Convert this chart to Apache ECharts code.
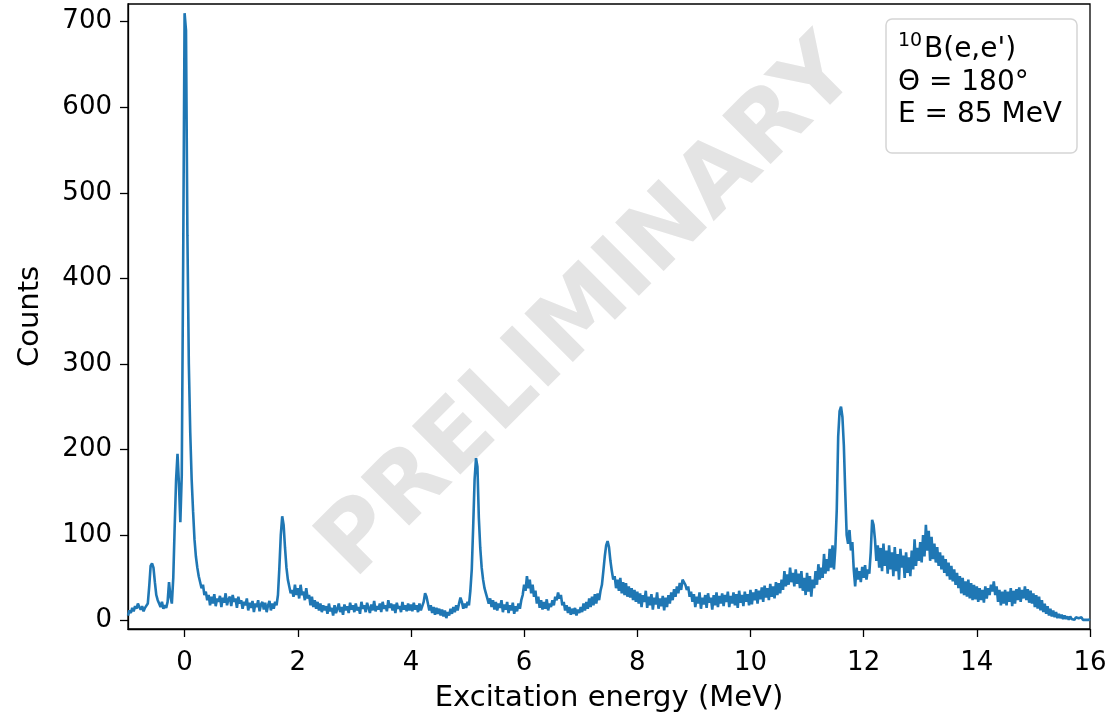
<!DOCTYPE html>
<html>
<head>
<meta charset="utf-8">
<script src="https://cdn.jsdelivr.net/npm/echarts@6/dist/echarts.min.js"></script>
<style>
html,body{margin:0;padding:0;background:#fff;}
#chart{width:1112px;height:718px;}
</style>
</head>
<body>
<div id="chart"></div>
<script>
// Energy bins (MeV): start and step of the spectrum grid
const E_START = -1.0;
const E_STEP = 0.025;
// Counts, one value per 0.025 MeV bin (-1.000 ... 16.000)
const counts = [
  // -1.000 .. -0.525
  6,12,9,15,11,17,14,20,16,13,17,11,15,13,20,40,64,67,62,45,
  // -0.500 .. -0.025
  30,24,20,16,22,14,18,15,22,45,28,20,50,110,165,195,160,115,170,420,
  // 0.000 .. 0.475
  710,690,450,300,220,165,128,95,75,62,52,45,38,42,30,34,24,30,18,28,
  // 0.500 .. 0.975
  20,31,17,26,22,29,16,27,21,32,18,25,28,17,30,22,26,15,28,20,
  // 1.000 .. 1.475
  24,14,22,18,26,12,21,15,23,10,20,16,24,11,19,22,13,21,10,18,
  // 1.500 .. 1.975
  23,12,20,14,22,18,30,62,100,122,112,85,62,48,40,32,36,28,42,30,
  // 2.000 .. 2.475
  38,26,42,30,34,24,38,26,30,18,28,16,24,14,22,12,20,10,18,12,
  // 2.500 .. 2.975
  17,8,20,11,15,6,18,9,14,20,10,16,7,19,12,17,9,21,13,18,
  // 3.000 .. 3.475
  10,20,12,16,8,22,14,18,10,21,15,9,19,12,23,11,17,13,20,10,
  // 3.500 .. 3.975
  22,14,18,11,24,15,20,12,19,9,21,14,17,10,22,13,18,11,20,12,
  // 4.000 .. 4.475
  19,11,21,13,18,10,20,12,17,22,32,28,20,12,18,9,16,7,15,8,
  // 4.500 .. 4.975
  14,6,13,5,12,3,10,6,14,8,16,10,18,12,20,27,22,14,20,15,
  // 5.000 .. 5.475
  22,18,35,60,110,165,190,180,120,85,62,48,38,32,26,20,26,16,24,13,
  // 5.500 .. 5.975
  22,12,20,15,24,10,19,13,22,9,18,12,21,8,17,11,20,14,24,30,
  // 6.000 .. 6.475
  42,35,52,38,48,32,42,28,35,20,28,15,24,13,22,14,25,12,20,16,
  // 6.500 .. 6.975
  24,18,28,24,33,26,30,18,22,12,18,9,16,7,14,8,15,6,13,9,
  // 7.000 .. 7.475
  16,10,20,12,22,14,26,16,28,18,31,20,32,24,35,42,58,75,88,93,
  // 7.500 .. 7.975
  86,70,58,48,52,38,48,35,50,32,45,30,44,28,40,27,38,24,36,22,
  // 8.000 .. 8.475
  34,20,32,16,30,22,35,15,28,18,31,13,27,19,33,14,26,17,29,12,
  // 8.500 .. 8.975
  27,16,30,20,33,24,37,28,40,32,44,36,48,50,42,36,40,28,34,22,
  // 9.000 .. 9.475
  31,16,28,20,33,14,27,19,30,15,32,21,27,13,30,18,33,16,29,20,
  // 9.500 .. 9.975
  32,17,30,22,34,16,29,20,33,18,31,15,35,21,30,17,34,22,31,18,
  // 10.000 .. 10.475
  36,19,33,24,37,20,35,25,39,22,41,27,38,24,43,28,40,26,45,30,
  // 10.500 .. 10.975
  44,32,48,36,58,40,54,42,62,45,56,40,60,43,55,38,58,35,50,30,
  // 11.000 .. 11.475
  56,34,52,28,48,38,58,42,66,48,62,50,78,55,72,58,84,62,88,60,
  // 11.500 .. 11.975
  85,130,215,245,250,238,205,150,100,90,106,82,92,60,40,62,48,58,45,63,
  // 12.000 .. 12.475
  50,65,48,60,55,80,118,112,95,70,88,62,85,58,90,64,82,55,88,60,
  // 12.500 .. 12.975
  80,52,86,58,78,48,84,62,76,50,80,56,74,52,82,60,95,64,85,70,
  // 13.000 .. 13.475
  92,68,100,75,112,82,105,70,98,72,90,68,86,64,80,60,76,56,72,52,
  // 13.500 .. 13.975
  68,48,64,46,60,42,56,38,52,32,50,30,46,28,48,26,44,24,42,25,
  // 14.000 .. 14.475
  40,22,38,24,36,21,40,26,38,30,42,34,46,30,40,22,36,18,34,20,
  // 14.500 .. 14.975
  36,18,34,22,38,17,35,20,37,24,39,22,36,26,40,24,37,21,35,20,
  // 15.000 .. 15.475
  32,16,30,14,28,12,24,10,20,8,17,6,14,5,12,4,10,3,8,3,
  // 15.500 .. 15.975
  7,2,6,2,5,1,5,2,4,1,4,2,3,1,4,1,3,1,3,1,
  // 16.000
  2
];
const xTicks = [0, 2, 4, 6, 8, 10, 12, 14, 16];
const yTicks = [0, 100, 200, 300, 400, 500, 600, 700];
const xRange = [-1, 16];
const yRange = [-9.7, 720.7];
const xLabel = 'Excitation energy (MeV)';
const yLabel = 'Counts';
const watermark = 'PRELIMINARY';
const infoSup = '10';
const infoLines = ["B(e,e')", 'Θ = 180°', 'E = 85 MeV'];

const seriesData = counts.map((c, i) => [+(E_START + i * E_STEP).toFixed(3), c]);

const chart = echarts.init(document.getElementById('chart'), null, {renderer: 'canvas'});
const FONT = 'DejaVu Sans';
const axisCommon = {
  axisLine: {show: true, onZero: false, lineStyle: {color: '#000', width: 1.3}},
  axisTick: {show: true, length: 8, lineStyle: {color: '#000', width: 1.3}},
  splitLine: {show: false},
  nameLocation: 'middle',
  nameTextStyle: {fontFamily: FONT, fontSize: 29, color: '#000'}
};
chart.setOption({
  animation: false,
  backgroundColor: '#fff',
  grid: {left: 128, right: 22, top: 4, bottom: 89, show: true, borderColor: '#000', borderWidth: 1.3},
  xAxis: Object.assign({}, axisCommon, {
    type: 'value', min: xRange[0], max: xRange[1],
    name: xLabel, nameGap: 55,
    axisTick: Object.assign({}, axisCommon.axisTick, {customValues: xTicks}),
    axisLabel: {customValues: xTicks, fontFamily: FONT, fontSize: 26, color: '#000', margin: 21}
  }),
  yAxis: Object.assign({}, axisCommon, {
    type: 'value', min: yRange[0], max: yRange[1],
    name: yLabel, nameGap: 83,
    axisTick: Object.assign({}, axisCommon.axisTick, {customValues: yTicks}),
    axisLabel: {customValues: yTicks, fontFamily: FONT, fontSize: 26, color: '#000', margin: 16,
                padding: [6, 0, 0, 0]}
  }),
  graphic: [
    {
      type: 'text', z: -10, zlevel: 0,
      x: 590, y: 310, rotation: Math.PI / 4,
      style: {text: watermark, fontFamily: FONT, fontWeight: 'bold', fontSize: 94,
              fill: '#e4e4e4', align: 'center', verticalAlign: 'middle'}
    },
    {
      type: 'rect', z: 10,
      shape: {x: 886, y: 19, width: 191, height: 134, r: 6},
      style: {fill: 'rgba(255,255,255,0.8)', stroke: '#d5d5d5', lineWidth: 1.5}
    },
    {type: 'text', z: 11, x: 898, y: 41,
     style: {text: infoSup, fontFamily: FONT, fontSize: 19, fill: '#000', verticalAlign: 'middle'}},
    {type: 'text', z: 11, x: 924, y: 50,
     style: {text: infoLines[0], fontFamily: FONT, fontSize: 28, fill: '#000', verticalAlign: 'middle'}},
    {type: 'text', z: 11, x: 898, y: 83,
     style: {text: infoLines[1], fontFamily: FONT, fontSize: 28, fill: '#000', verticalAlign: 'middle'}},
    {type: 'text', z: 11, x: 898, y: 115,
     style: {text: infoLines[2], fontFamily: FONT, fontSize: 28, fill: '#000', verticalAlign: 'middle'}}
  ],
  series: [{
    type: 'line', data: seriesData, showSymbol: false, symbol: 'none',
    lineStyle: {color: '#1f77b4', width: 2.6}, z: 5
  }]
});
</script>
</body>
</html>
